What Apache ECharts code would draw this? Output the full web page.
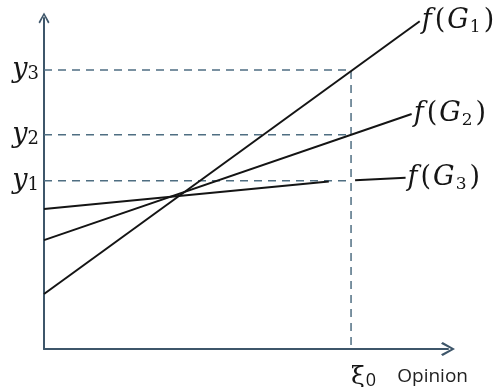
<!DOCTYPE html>
<html>
<head>
<meta charset="utf-8">
<script src="https://cdn.jsdelivr.net/npm/echarts@6/dist/echarts.min.js"></script>
<style>
  html, body { margin: 0; padding: 0; background: #fff; }
  #chart { width: 503px; height: 387px; }
</style>
</head>
<body>
<div id="chart"></div>
<script>
// Opinion axis reference point and the three response levels
const xi0 = 7.6;
const levels = { y1: 5.08, y2: 6.47, y3: 8.43 };
const levelNames = ['y1', 'y2', 'y3'];

// Response curves f(G1), f(G2), f(G3) as [opinion, value] points
const g1 = [[0, 1.66], [9.3, 9.9]];
const g2 = [[0, 3.29], [9.1, 7.1]];
const g3 = [[0, 4.23], [7.05, 5.06], [null, null], [7.7, 5.1], [8.95, 5.17]];
const curveNames = ['1', '2', '3'];

const axisColor = '#3e566a';
const guideColor = '#4f6e82';
const curveColor = '#141414';
const mathFont = '"DejaVu Serif", serif';

// open arrowhead, drawn pointing along the axis
const chevron = 'path://M5,0 L10,8.8 L8.7,10 L5,2.8 L1.3,10 L0,8.8 Z';

const mathRich = {
  i: { fontFamily: mathFont, fontStyle: 'italic', fontSize: 27, color: '#151515', padding: [0, 1, 0, 0] },
  p: { fontFamily: mathFont, fontSize: 27, color: '#151515', padding: [0, 2, 0, 2] },
  s: { fontFamily: mathFont, fontSize: 17, color: '#151515', padding: [13, 1, 0, 0] }
};

function curveLabel(idx) {
  return '{i|f}{p|(}{i|G}{s|' + curveNames[idx] + '}{p|)}';
}

function curveSeries(data, idx) {
  return {
    type: 'line',
    data: data,
    symbol: 'none',
    silent: true,
    connectNulls: false,
    lineStyle: { color: curveColor, width: 2 },
    endLabel: {
      show: true,
      distance: 2,
      formatter: () => curveLabel(idx),
      rich: mathRich
    },
    z: 3
  };
}

function guideSeries(data) {
  return {
    type: 'line',
    data: data,
    symbol: 'none',
    silent: true,
    lineStyle: { color: guideColor, width: 1.5, type: [8, 6] },
    z: 2
  };
}

const chart = echarts.init(document.getElementById('chart'), null, { renderer: 'canvas' });

chart.setOption({
  animation: false,
  backgroundColor: '#ffffff',
  grid: {
    left: 44, right: 55, top: 18, bottom: 38,
    containLabel: false,
    outerBoundsMode: 'none'
  },
  xAxis: {
    type: 'value',
    min: 0,
    max: 10,
    name: 'Opinion',
    nameLocation: 'end',
    nameGap: 20,
    nameTextStyle: {
      fontFamily: '"Open Sans", sans-serif',
      fontSize: 19,
      color: '#222',
      align: 'right',
      verticalAlign: 'top',
      padding: [18, 0, 0, 0]
    },
    splitLine: { show: false },
    axisTick: { show: false },
    axisLine: {
      show: true,
      symbol: ['none', chevron],
      symbolSize: [14, 14],
      symbolOffset: [0, 0],
      lineStyle: { color: axisColor, width: 2 }
    },
    axisLabel: {
      show: true,
      customValues: [xi0],
      margin: 15,
      align: 'left',
      formatter: () => '{x|ξ}{n|0}',
      rich: {
        x: { fontFamily: mathFont, fontSize: 25, color: '#151515' },
        n: { fontFamily: '"Open Sans", sans-serif', fontSize: 18, color: '#151515', padding: [8, 0, 0, 1] }
      }
    }
  },
  yAxis: {
    type: 'value',
    min: 0,
    max: 10,
    splitLine: { show: false },
    axisTick: { show: false },
    axisLine: {
      show: true,
      symbol: ['none', chevron],
      symbolSize: [13, 11],
      lineStyle: { color: axisColor, width: 2 }
    },
    axisLabel: {
      show: true,
      customValues: levelNames.map(k => levels[k]),
      margin: 5,
      formatter: (v) => {
        const k = levelNames.find(n => Math.abs(levels[n] - v) < 1e-9);
        return '{y|y}{n|' + k.slice(1) + '}';
      },
      rich: {
        y: { fontFamily: mathFont, fontStyle: 'italic', fontSize: 27, color: '#151515' },
        n: { fontFamily: mathFont, fontSize: 18, color: '#151515', padding: [9, 0, 0, 0] }
      }
    }
  },
  series: [
    guideSeries([[0, levels.y3], [xi0, levels.y3], [xi0, 0]]),
    guideSeries([[0, levels.y2], [xi0, levels.y2]]),
    guideSeries([[0, levels.y1], [xi0, levels.y1]]),
    curveSeries(g1, 0),
    curveSeries(g2, 1),
    curveSeries(g3, 2)
  ]
});
</script>
</body>
</html>
